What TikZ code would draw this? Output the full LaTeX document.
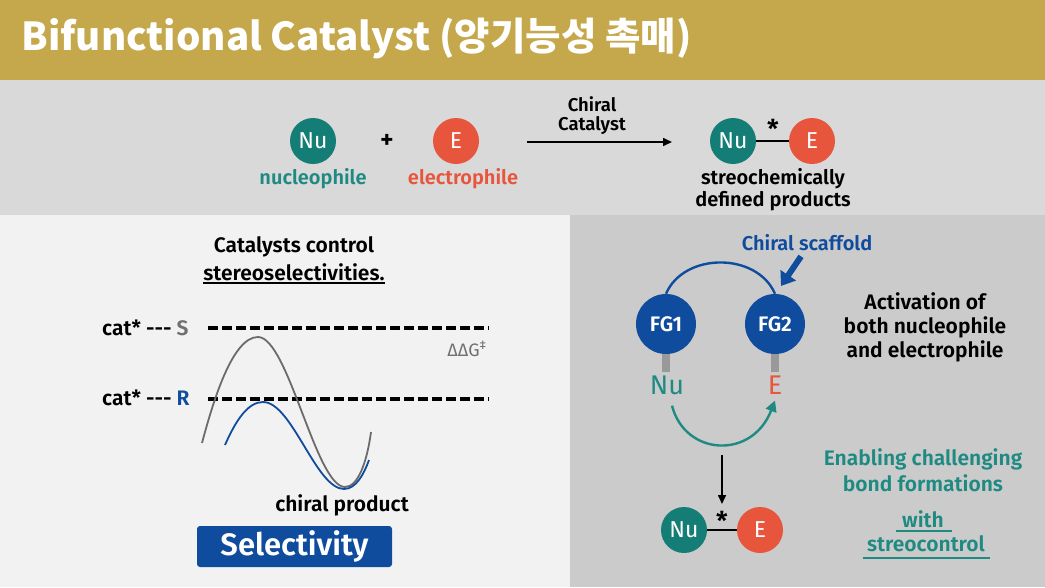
\documentclass[tikz,border=0pt]{standalone}
\usepackage{fontspec}
\setmainfont{Fira Sans}[BoldFont={Fira Sans SemiBold}]
\newfontfamily\krfont{Noto Sans CJK KR}
\usetikzlibrary{arrows.meta,positioning}
\definecolor{gold}{HTML}{C4A84B}
\definecolor{toppanel}{HTML}{D9D9D9}
\definecolor{leftpanel}{HTML}{F2F2F2}
\definecolor{rightpanel}{HTML}{CBCBCB}
\definecolor{tealc}{HTML}{137D76}
\definecolor{tealt}{HTML}{1E8A82}
\definecolor{redc}{HTML}{E8553D}
\definecolor{scafblue}{HTML}{0F4C9E}
\definecolor{curvegray}{HTML}{6B6B6B}
\definecolor{labgray}{HTML}{707070}

\begin{document}
\begin{tikzpicture}[x=1pt, y=-1pt,
  font=\fontsize{20}{24}\selectfont,
  ball/.style={circle, minimum size=46pt, inner sep=0pt, text=white,
               font=\fontsize{23}{24}\selectfont},
  fg/.style={circle, fill=scafblue, minimum size=60pt, inner sep=0pt,
             text=white, font=\bfseries\fontsize{21}{22}\selectfont},
  lab/.style={align=center, inner sep=2pt, font=\bfseries\fontsize{20}{21}\selectfont},
  big/.style={inner sep=1pt, font=\fontsize{27}{28}\selectfont},
  starlab/.style={anchor=base, inner sep=0pt, font=\bfseries\fontsize{26}{26}\selectfont},
  bond/.style={line width=1.4pt},
  arr/.style={-{Triangle[length=9pt,width=8pt]}, line width=1.6pt},
  lvl/.style={line width=3.2pt, dash pattern=on 10pt off 4pt},
  uline/.style={line width=1.8pt},
  curve/.style={line width=1.8pt}]
\useasboundingbox (0,0) rectangle (1045,587);
\fill[gold] (0,0) rectangle (1045,80);
\fill[toppanel] (0,80) rectangle (1045,215);
\fill[leftpanel] (0,215) rectangle (570,587);
\fill[rightpanel] (570,215) rectangle (1045,587);
\node[anchor=west, text=white, font=\krfont\bfseries\fontsize{38.5}{40}\selectfont] (title)
  at (18,38) {Bifunctional Catalyst (양기능성 촉매)};

\node[ball, fill=tealc] (nu) at (313,141) {Nu};
\node[lab, font=\bfseries\fontsize{26}{26}\selectfont] (plus) at (387,141) {+};
\node[ball, fill=redc] (el) at (456,141) {E};
\node[lab, text=tealt] (nulab) at (313,179) {nucleophile};
\node[lab, text=redc] (ellab) at (463,179) {electrophile};
\node[lab, font=\bfseries\fontsize{18.5}{19}\selectfont] (cat) at (592,116) {Chiral\\Catalyst};
\coordinate (rxn0) at (527,142);
\coordinate (rxn1) at (672,142);
\draw[arr] (rxn0) -- (rxn1);
\node[ball, fill=tealc] (pnu) at (733,141) {Nu};
\node[ball, fill=redc] (pel) at (812,141) {E};
\draw[bond] (pnu) -- (pel);
\node[starlab] (pstar) at (773,138) {*};
\node[lab, font=\bfseries\fontsize{20}{22}\selectfont] (plab) at (773,190) {streochemically\\defined products};

\node[lab, font=\bfseries\fontsize{21}{28}\selectfont] (ctl) at (294,259)
  {Catalysts control\\stereoselectivities.};
\draw[uline] ([xshift=2pt]ctl.south west) -- ([xshift=-2pt]ctl.south east);
\node[lab, anchor=base west, font=\bfseries\fontsize{21}{22}\selectfont] (cs) at (100,335)
  {cat* -{}-{}- {\color{labgray}S}};
\node[lab, anchor=base west, font=\bfseries\fontsize{21}{22}\selectfont] (cr) at (100,405)
  {cat* -{}-{}- {\color{scafblue}R}};
\coordinate (s0) at (208,328);
\coordinate (s1) at (489,328);
\coordinate (r0) at (208,399);
\coordinate (r1) at (489,399);
\draw[lvl] (s0) -- (s1);
\draw[lvl] (r0) -- (r1);
\node[text=labgray, font=\fontsize{18}{20}\selectfont] (ddg) at (467,349) {ΔΔG\textsuperscript{‡}};
\draw[curve, curvegray] (202,443) .. controls (214,398) and (233,337) .. (258,337)
  .. controls (288,337) and (316,487) .. (345,487)
  .. controls (358,487) and (367,462) .. (371,432);
\draw[curve, scafblue] (225,445) .. controls (236,420) and (248,402) .. (263,402)
  .. controls (292,402) and (316,489) .. (344,489)
  .. controls (356,489) and (364,474) .. (369,460);
\node[lab, font=\bfseries\fontsize{21}{22}\selectfont] (prod) at (342,505) {chiral product};
\node[fill=scafblue, rounded corners=3pt, minimum width=195pt, minimum height=41pt,
      text=white, font=\bfseries\fontsize{31}{31}\selectfont] (sel) at (294.5,546.5) {Selectivity};

\node[lab, text=scafblue] (scaf) at (807,243) {Chiral scaffold};
\node[fg] (fg1) at (666,324) {FG1};
\node[fg] (fg2) at (775,324) {FG2};
\draw[line width=2.4pt, scafblue] (fg1.north) .. controls (684,252) and (757,252) .. (fg2.north);
\coordinate (scaftip) at (781,286);
\draw[line width=6pt, scafblue, -{Triangle[length=13pt,width=18pt]}] ([xshift=-6pt,yshift=-3pt]scaf.south) -- (scaftip);
\draw[line width=8pt, gray!80] (fg1.south) -- ++(0,18);
\draw[line width=8pt, gray!80] (fg2.south) -- ++(0,18);
\node[big, text=tealt] (nub) at (667,385) {Nu};
\node[big, text=redc] (eb) at (775,385) {E};
\draw[line width=2.4pt, tealt, -{Triangle[length=11pt,width=11pt]}]
  ([xshift=5pt,yshift=-10pt]nub.south) .. controls (685,456) and (752,460) .. ([yshift=-5pt]eb.south);
\coordinate (dtop) at (722,455);
\coordinate (dbot) at (722,504);
\draw[arr] (dtop) -- (dbot);
\node[ball, fill=tealc] (bnu) at (684,530) {Nu};
\node[ball, fill=redc] (bel) at (760,530) {E};
\draw[bond] (bnu) -- (bel);
\node[starlab] (bstar) at (722,530) {*};
\node[lab, font=\bfseries\fontsize{21}{24}\selectfont] (act) at (925,327)
  {Activation of\\both nucleophile\\and electrophile};
\node[lab, text=tealt, font=\bfseries\fontsize{21}{26}\selectfont] (enab) at (923,470)
  {Enabling challenging\\bond formations};
\node[lab, text=tealt, font=\bfseries\fontsize{21}{22}\selectfont] (with) at (923,519) {with};
\node[lab, text=tealt, font=\bfseries\fontsize{21}{22}\selectfont] (stc) at (926,544) {streocontrol};
\draw[uline, tealt] (896,531) -- (952,531);
\draw[uline, tealt] (863,558) -- (990,558);
\end{tikzpicture}
\end{document}
